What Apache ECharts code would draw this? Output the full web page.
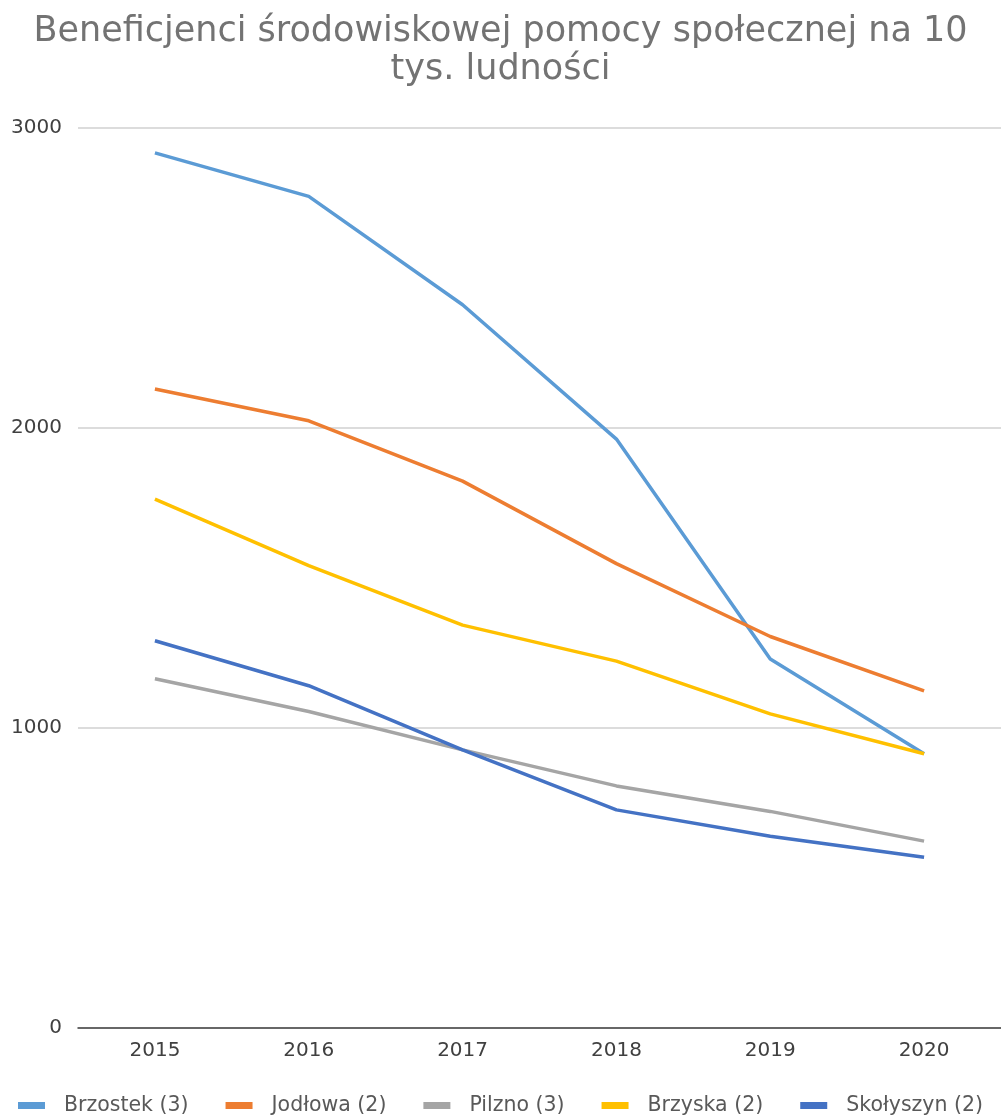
<!DOCTYPE html>
<html>
<head>
<meta charset="utf-8">
<script src="https://cdn.jsdelivr.net/npm/echarts@6/dist/echarts.min.js"></script>
<style>
html,body{margin:0;padding:0;background:#fff;}
#chart{width:1001px;height:1117px;}
</style>
</head>
<body>
<div id="chart"></div>
<script>
const titleText = 'Beneficjenci środowiskowej pomocy społecznej na 10\ntys. ludności';
const years = ['2015', '2016', '2017', '2018', '2019', '2020'];
const seriesNames = ['Brzostek (3)', 'Jodłowa (2)', 'Pilzno (3)', 'Brzyska (2)', 'Skołyszyn (2)'];
const brzostek = [2917, 2772, 2411, 1963, 1230, 914];
const jodlowa = [2130, 2024, 1823, 1548, 1305, 1124];
const pilzno = [1164, 1055, 927, 807, 722, 623];
const brzyska = [1763, 1541, 1343, 1223, 1047, 914];
const skolyszyn = [1291, 1141, 927, 727, 639, 569];
const yTicks = { min: 0, max: 3000, interval: 1000 };
const colors = ['#5B9BD5', '#ED7D31', '#A5A5A5', '#FFC000', '#4472C4'];

const values = [brzostek, jodlowa, pilzno, brzyska, skolyszyn];
const font = 'DejaVu Sans';
const chart = echarts.init(document.getElementById('chart'), null, { renderer: 'canvas' });
chart.setOption({
  animation: false,
  backgroundColor: '#fff',
  color: colors,
  title: {
    text: titleText,
    left: 'center',
    top: 8,
    textStyle: { fontFamily: font, fontSize: 35, fontWeight: 'normal', color: '#737373', lineHeight: 38 }
  },
  legend: {
    top: 1090,
    left: 'center',
    icon: 'rect',
    itemWidth: 27,
    itemHeight: 7,
    itemGap: 37,
    textStyle: { fontFamily: font, fontSize: 20.5, color: '#595959', padding: [0, 0, 0, 14] },
    data: seriesNames
  },
  grid: { left: 78, right: 0, top: 128, bottom: 89, containLabel: false },
  xAxis: {
    type: 'category',
    data: years,
    boundaryGap: true,
    axisLine: { show: true, lineStyle: { color: '#404040', width: 1.5 } },
    axisTick: { show: false },
    axisLabel: { fontFamily: font, fontSize: 20, color: '#404040', margin: 13 }
  },
  yAxis: {
    type: 'value',
    min: yTicks.min,
    max: yTicks.max,
    interval: yTicks.interval,
    axisLine: { show: false },
    axisTick: { show: false },
    splitLine: { lineStyle: { color: '#d0d0d0', width: 1.5 } },
    axisLabel: { fontFamily: font, fontSize: 20, color: '#404040', margin: 16, formatter: v => String(v) }
  },
  series: seriesNames.map((n, i) => ({
    name: n,
    type: 'line',
    data: values[i],
    symbol: 'none',
    lineStyle: { width: 3.5, color: colors[i] },
    itemStyle: { color: colors[i] }
  }))
});
</script>
</body>
</html>
